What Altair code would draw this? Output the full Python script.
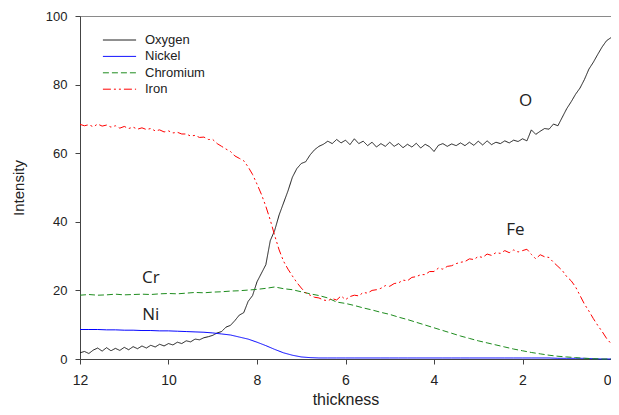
import altair as alt
import pandas as pd

# ---- data ----
oxygen = [1.8, 2.2, 1.6, 2.6, 3.2, 2.3, 3.3, 2.4, 3.1, 2.5,
          3.4, 2.7, 3.6, 3.0, 3.8, 3.2, 4.0, 3.5, 4.3, 3.8,
          4.5, 4.1, 4.9, 4.5, 5.3, 5.0, 5.8, 5.6, 6.2, 6.5,
          6.9, 7.6, 8.0, 9.3, 9.8, 11.2, 12.8, 13.5, 16.8, 18.5,
          22.5, 25.0, 27.5, 34.5, 37.5, 42.0, 45.5, 49.0, 53.0, 55.5,
          57.0, 57.5, 59.5, 61.0, 62.0, 62.6, 63.5, 62.8, 64.0, 63.0,
          63.8, 62.5, 64.2, 62.8, 63.5, 62.2, 63.2, 61.8, 62.8, 62.0,
          63.2, 62.0, 62.8, 61.6, 62.6, 61.8, 62.9, 61.5, 62.6, 61.9,
          60.5, 62.3, 62.8, 62.0, 62.7, 62.2, 63.0, 62.2, 63.2, 62.3,
          63.5, 62.4, 63.6, 62.5, 63.2, 62.8, 63.6, 63.0, 63.8, 63.4,
          64.2, 63.6, 66.8, 65.5, 66.4, 67.2, 67.0, 68.5, 68.0, 70.5,
          73.0, 75.0, 77.2, 79.0, 81.5, 84.5, 86.5, 88.8, 91.0, 92.8,
          93.7]

iron = [68.4, 68.0, 68.3, 67.7, 68.5, 67.9, 68.2, 67.6, 68.0, 67.3,
        67.8, 67.2, 67.6, 67.0, 67.4, 66.9, 67.2, 66.5, 66.8, 66.2,
        66.5, 65.9, 66.1, 65.6, 65.6, 65.0, 65.2, 64.6, 64.7, 64.0,
        64.0, 62.8, 62.0, 61.2, 60.5, 59.2, 58.5, 57.8, 56.0, 53.8,
        51.0, 48.0, 44.5, 40.5, 36.0, 31.8, 28.5, 26.2, 24.2, 22.3,
        20.7, 19.3, 18.6, 18.0, 17.8, 17.2, 17.0, 17.6, 17.2, 18.4,
        17.3, 18.2, 18.6, 18.4, 19.4, 19.2, 20.0, 20.2, 20.6, 21.4,
        21.2, 22.0, 22.2, 23.0, 22.8, 23.8, 24.0, 24.6, 24.6, 25.5,
        25.5, 26.5, 26.2, 27.0, 27.2, 27.8, 28.2, 28.4, 29.2, 29.0,
        29.9, 29.6, 30.6, 30.2, 31.0, 30.8, 31.6, 31.0, 31.8, 31.2,
        31.6, 32.0, 30.5, 29.2, 30.4, 29.8, 29.6, 28.2, 27.0, 25.8,
        24.0, 22.8, 21.0, 18.5, 16.0, 14.0, 11.8, 9.8, 8.0, 6.0,
        4.5]

chromium = [18.6, 18.8, 18.6, 18.7, 18.9, 18.7, 18.8, 18.9, 18.8, 19.0,
            19.1, 19.0, 19.2, 19.4, 19.3, 19.5, 19.6, 19.8, 19.9, 20.1,
            20.3, 20.6, 21.0, 20.5, 20.2, 19.6, 19.0, 18.5, 17.8, 16.6,
            16.2, 15.6, 14.9, 14.3, 13.6, 13.0, 12.2, 11.5, 10.7, 9.9,
            9.1, 8.3, 7.5, 6.7, 6.0, 5.3, 4.7, 4.1, 3.5, 2.9,
            2.4, 1.9, 1.5, 1.1, 0.8, 0.6, 0.4, 0.2, 0.1, 0.0,
            0.0]

nickel = [8.6, 8.6, 8.6, 8.5, 8.5, 8.4, 8.4, 8.3, 8.3, 8.2,
          8.2, 8.1, 8.0, 7.9, 7.8, 7.6, 7.3, 7.0, 6.4, 5.8,
          4.9, 3.9, 2.8, 1.8, 1.1, 0.6, 0.4, 0.3, 0.3, 0.3,
          0.3, 0.3, 0.3, 0.3, 0.3, 0.3, 0.3, 0.3, 0.3, 0.3,
          0.3, 0.3, 0.3, 0.3, 0.3, 0.3, 0.3, 0.3, 0.3, 0.3,
          0.3, 0.3, 0.3, 0.3, 0.2, 0.2, 0.2, 0.2, 0.1, 0.0,
          0.0]

t_fine = [round(12 - 0.1 * i, 1) for i in range(len(oxygen))]
t_coarse = [round(12 - 0.2 * i, 1) for i in range(len(chromium))]

series_names = ["Oxygen", "Nickel", "Chromium", "Iron"]
series_colors = ["#1a1a1a", "#0000ff", "#1e8c1e", "#ff0000"]
series_dash = [[1, 0], [1, 0], [6, 3], [8, 3, 2, 3, 2, 3]]

ann_text = ["O", "Fe", "Cr", "Ni"]
ann_t = [1.93, 2.16, 10.4, 10.4]
ann_v = [75.1, 37.7, 23.7, 12.9]

x_ticks = [0, 2, 4, 6, 8, 10, 12]
y_ticks = [0, 20, 40, 60, 80, 100]

rows = []
for name, ts, vs in [("Oxygen", t_fine, oxygen), ("Nickel", t_coarse, nickel),
                     ("Chromium", t_coarse, chromium), ("Iron", t_fine, iron)]:
    for t, v in zip(ts, vs):
        rows.append({"series": name, "thickness": t, "intensity": v})
df = pd.DataFrame(rows)
ann = pd.DataFrame({"label": ann_text, "thickness": ann_t, "intensity": ann_v})

x_enc = alt.X("thickness:Q",
              scale=alt.Scale(domain=[0, 12], reverse=True, nice=False, zero=False),
              axis=alt.Axis(values=x_ticks, title="thickness", grid=False, format="d",
                            tickSize=5, labelPadding=9, titlePadding=4, labelFlush=False,
                            labelAlign={"condition": {"test": "datum.value === 0", "value": "right"},
                                        "value": "center"},
                            labelFontSize=14, titleFontSize=16, titleFontWeight="normal"))
y_enc = alt.Y("intensity:Q",
              scale=alt.Scale(domain=[0, 100], nice=False),
              axis=alt.Axis(values=y_ticks, title="Intensity", grid=False,
                            tickSize=5, labelPadding=8, titlePadding=19, labelFlush=False,
                            labelFontSize=13, titleFontSize=15, titleFontWeight="normal"))

lines = alt.Chart(df).mark_line(strokeWidth=1).encode(
    x=x_enc,
    y=y_enc,
    color=alt.Color("series:N", sort=series_names,
                    scale=alt.Scale(domain=series_names, range=series_colors),
                    legend=alt.Legend(title=None, orient="none", legendX=22, legendY=16,
                                      symbolType="stroke", symbolSize=1100,
                                      symbolStrokeWidth=1, labelFontSize=13,
                                      labelOffset=8, padding=0, rowPadding=0.4,
                                      clipHeight=16)),
    strokeDash=alt.StrokeDash("series:N", sort=series_names,
                              scale=alt.Scale(domain=series_names, range=series_dash),
                              legend=None),
    order=alt.Order("thickness:Q", sort="descending"),
)

labels = alt.Chart(ann).mark_text(fontSize=17, font="Open Sans", color="#222222").encode(
    x="thickness:Q", y="intensity:Q", text="label:N")

chart = alt.layer(lines, labels).properties(
    width=531, height=343,
    autosize=alt.AutoSizeParams(type="none"),
    padding={"left": 72, "top": 8, "right": 0, "bottom": 48},
).configure_view(stroke="#8a8a8a", strokeWidth=1).configure_axis(
    domainColor="#444444", tickColor="#444444", labelColor="#222222",
    titleColor="#222222", labelFont="Liberation Sans", titleFont="Liberation Sans",
).configure_legend(labelFont="Liberation Sans", labelColor="#222222")

chart.save("out.html", embed_options={"renderer": "svg", "actions": False})
